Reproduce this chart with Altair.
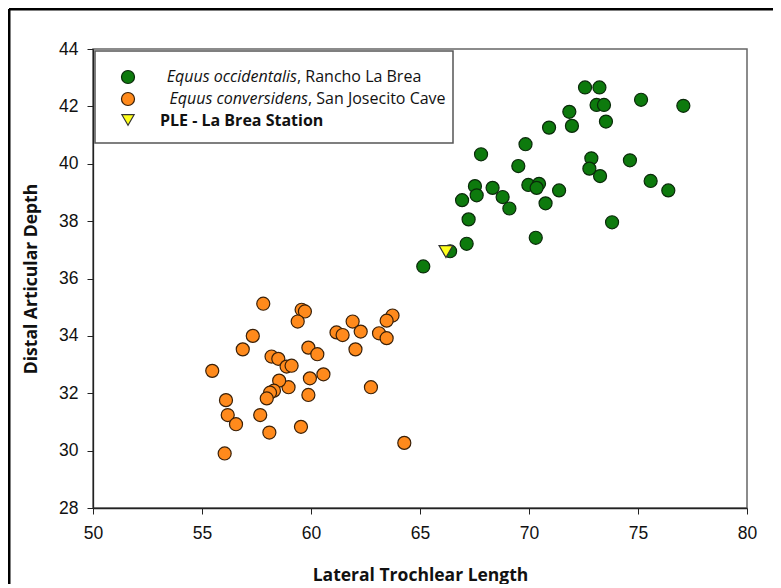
import altair as alt
import pandas as pd

# ---- data ----
occ_x = [72.57, 73.23, 73.10, 73.44, 75.14, 77.08, 71.85, 73.53, 71.97, 70.92,
         69.84, 67.80, 69.51, 72.86, 72.77, 74.63, 73.26, 75.58, 76.39, 67.52,
         67.60, 68.33, 68.79, 69.10, 69.97, 70.46, 70.35, 71.38, 70.76, 66.93,
         67.23, 73.81, 70.31, 67.14, 66.38, 65.15]
occ_y = [42.66, 42.66, 42.05, 42.05, 42.23, 42.02, 41.81, 41.47, 41.32, 41.26,
         40.68, 40.33, 39.92, 40.19, 39.83, 40.12, 39.57, 39.40, 39.07, 39.22,
         38.90, 39.16, 38.84, 38.44, 39.26, 39.30, 39.16, 39.07, 38.62, 38.73,
         38.06, 37.96, 37.42, 37.21, 36.95, 36.42]

con_x = [57.81, 59.57, 59.72, 59.39, 57.33, 56.87, 55.47, 61.91, 63.74, 63.47,
         61.17, 61.45, 62.28, 63.12, 63.47, 62.04, 59.88, 60.29, 58.19, 58.50,
         58.88, 59.11, 60.57, 59.95, 58.97, 58.54, 58.30, 58.12, 57.97, 59.88,
         56.10, 56.18, 56.56, 57.67, 58.09, 59.54, 62.75, 64.28, 56.04]
con_y = [35.12, 34.91, 34.85, 34.50, 34.00, 33.53, 32.78, 34.50, 34.71, 34.53,
         34.12, 34.03, 34.15, 34.09, 33.92, 33.53, 33.59, 33.36, 33.28, 33.20,
         32.93, 32.96, 32.66, 32.52, 32.21, 32.44, 32.09, 32.02, 31.82, 31.94,
         31.76, 31.24, 30.92, 31.24, 30.63, 30.83, 32.21, 30.27, 29.90]

ple_x = [66.19]
ple_y = [36.94]

x_ticks = [50, 55, 60, 65, 70, 75, 80]
y_ticks = [28, 30, 32, 34, 36, 38, 40, 42, 44]

legend_italic = ["Equus occidentalis", "Equus conversidens"]
legend_rest = [", Rancho La Brea", ", San Josecito Cave"]
legend_bold = "PLE - La Brea Station"

GREEN = "#0d7a0d"
ORANGE = "#ff8a1c"
YELLOW = "#ffff1a"

W, H = 654, 459
LABEL_FONT = "Liberation Sans"
TITLE_FONT = "Open Sans"

df_occ = pd.DataFrame({"x": occ_x, "y": occ_y})
df_con = pd.DataFrame({"x": con_x, "y": con_y})
df_ple = pd.DataFrame({"x": ple_x, "y": ple_y})

xscale = alt.Scale(domain=[50, 80], nice=False, zero=False)
yscale = alt.Scale(domain=[28, 44], nice=False, zero=False)

xaxis = alt.Axis(values=x_ticks, grid=False, title="Lateral Trochlear Length",
                 tickSize=6, labelPadding=10, labelFont=LABEL_FONT, labelFontSize=17.5,
                 labelColor="#111", titleFont=TITLE_FONT, titleFontSize=17.5,
                 titleFontWeight="bold", titleColor="#111", titleBaseline="middle",
                 titleY=67, domainColor="#222", tickColor="#222", domainWidth=1.3,
                 labelFlush=False)
yaxis = alt.Axis(values=y_ticks, grid=False, title="Distal Articular Depth",
                 tickSize=6, labelPadding=9, labelFont=LABEL_FONT, labelFontSize=17.5,
                 labelColor="#111", titleFont=TITLE_FONT, titleFontSize=17.5,
                 titleFontWeight="bold", titleColor="#111", titleBaseline="middle",
                 titleX=-62, titleY=H / 2, titleAngle=270, domainColor="#222",
                 tickColor="#222", domainWidth=1.3, labelFlush=False)

enc_x = alt.X("x:Q", scale=xscale, axis=xaxis)
enc_y = alt.Y("y:Q", scale=yscale, axis=yaxis)

con = alt.Chart(df_con).mark_point(filled=True, shape="circle", size=170,
                                   fill=ORANGE, stroke="#3a2008", strokeWidth=1.2,
                                   opacity=1).encode(x=enc_x, y=enc_y)
occ = alt.Chart(df_occ).mark_point(filled=True, shape="circle", size=170,
                                   fill=GREEN, stroke="#0a2a0a", strokeWidth=1.2,
                                   opacity=1).encode(x="x:Q", y="y:Q")
ple = alt.Chart(df_ple).mark_point(filled=True, shape="triangle-down", size=190,
                                   fill=YELLOW, stroke="#333", strokeWidth=1.2,
                                   opacity=1).encode(x="x:Q", y="y:Q")

# ---- custom legend (box, symbols, mixed-style text) ----
one = pd.DataFrame({"k": [0]})
leg_box = alt.Chart(one).mark_rect(fill="white", stroke="#555", strokeWidth=1.5).encode(
    x=alt.value(2), x2=alt.value(360), y=alt.value(2), y2=alt.value(94))
row_y = [28, 50, 72]
sym1 = alt.Chart(one).mark_point(filled=True, shape="circle", size=170, fill=GREEN,
                                 stroke="#0a2a0a", strokeWidth=1.2, opacity=1).encode(
    x=alt.value(35), y=alt.value(row_y[0]))
sym2 = alt.Chart(one).mark_point(filled=True, shape="circle", size=170, fill=ORANGE,
                                 stroke="#3a2008", strokeWidth=1.2, opacity=1).encode(
    x=alt.value(35), y=alt.value(row_y[1]))
sym3 = alt.Chart(one).mark_point(filled=True, shape="triangle-down", size=150, fill=YELLOW,
                                 stroke="#333", strokeWidth=1.2, opacity=1).encode(
    x=alt.value(35), y=alt.value(row_y[2] - 1))

def txt(s, x, y, style="normal", weight="normal", align="left", size=16):
    return alt.Chart(one).mark_text(text=s, align=align, baseline="middle",
                                    font=TITLE_FONT, fontSize=size, fontStyle=style,
                                    fontWeight=weight, color="#111").encode(
        x=alt.value(x), y=alt.value(y))

t1a = txt(legend_italic[0], 204, row_y[0], style="italic", align="right")
t1b = txt(legend_rest[0], 204, row_y[0])
t2a = txt(legend_italic[1], 215, row_y[1], style="italic", align="right")
t2b = txt(legend_rest[1], 215, row_y[1])
t3 = txt(legend_bold, 67, row_y[2], weight="bold")

# ---- outer figure frame (left and top edges visible in the reference) ----
frame_left = alt.Chart(one).mark_rule(color="black", strokeWidth=3).encode(
    x=alt.value(-84), y=alt.value(-40), y2=alt.value(H + 120))
frame_top = alt.Chart(one).mark_rule(color="black", strokeWidth=3).encode(
    x=alt.value(-84), x2=alt.value(W + 120), y=alt.value(-40))

chart = alt.layer(
    frame_left, frame_top, con, occ, ple,
    leg_box, sym1, sym2, sym3, t1a, t1b, t2a, t2b, t3
).properties(
    width=W, height=H,
    autosize=alt.AutoSizeParams(type="none"),
    padding={"left": 85, "top": 41, "right": 26, "bottom": 76},
    background="white",
).configure_view(stroke="#666", strokeWidth=1.5)

chart.save("out.html", embed_options={"renderer": "svg", "actions": False})
